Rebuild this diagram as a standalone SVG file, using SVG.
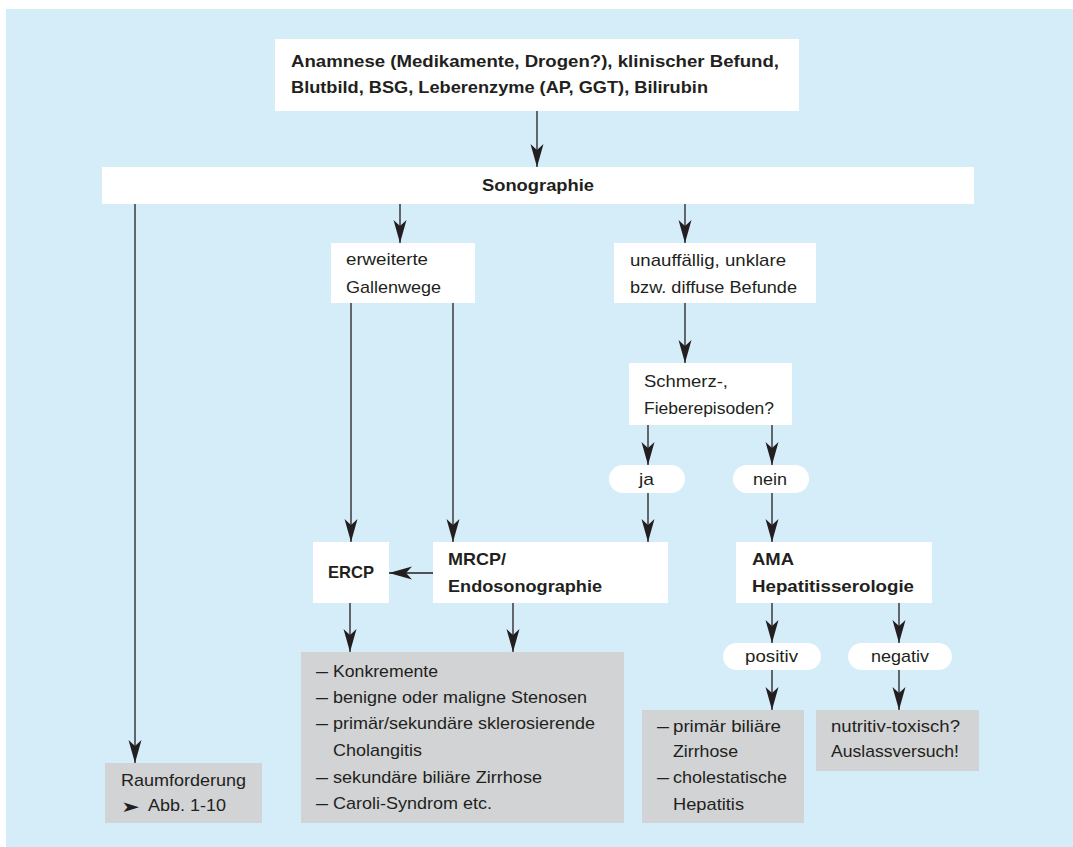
<svg xmlns="http://www.w3.org/2000/svg" width="1073" height="847" viewBox="0 0 1073 847">
  <defs>
    <marker id="arrow" markerUnits="userSpaceOnUse" markerWidth="26" markerHeight="16" viewBox="-24 -8 26 16" refX="0" refY="0" orient="auto">
      <path d="M0,0 L-23,-6.5 L-17,0 L-23,6.5 Z" fill="#231f20"/>
    </marker>
  </defs>
  <style>
    .box { fill: #ffffff; }
    .grey { fill: #d1d3d4; }
    .t { font-family: "Liberation Sans", Arial, sans-serif; font-size: 17px; fill: #231f20; }
    .b { font-weight: bold; }
    .sym { font-family: "DejaVu Sans", sans-serif; font-size: 15px; fill: #231f20; }
    #connectors line { stroke: #231f20; stroke-width: 1.3; fill: none; marker-end: url(#arrow); }
  </style>

  <!-- background panel -->
  <rect x="6" y="9" width="1067" height="838" fill="#d5ecf9"/>

  <!-- connectors -->
  <g id="connectors">
    <line x1="537" y1="111" x2="537" y2="167"/>
    <line x1="135" y1="204" x2="135" y2="763"/>
    <line x1="400" y1="204" x2="400" y2="243"/>
    <line x1="685" y1="204" x2="685" y2="243"/>
    <line x1="685" y1="303" x2="685" y2="363"/>
    <line x1="351" y1="303" x2="351" y2="542"/>
    <line x1="453" y1="303" x2="453" y2="542"/>
    <line x1="648" y1="425" x2="648" y2="465"/>
    <line x1="772" y1="425" x2="772" y2="465"/>
    <line x1="648" y1="493" x2="648" y2="542"/>
    <line x1="772" y1="493" x2="772" y2="542"/>
    <line x1="433" y1="573" x2="389" y2="573"/>
    <line x1="350" y1="603" x2="350" y2="652"/>
    <line x1="513" y1="603" x2="513" y2="652"/>
    <line x1="772" y1="603" x2="772" y2="643"/>
    <line x1="899" y1="603" x2="899" y2="643"/>
    <line x1="772" y1="670" x2="772" y2="710"/>
    <line x1="899" y1="670" x2="899" y2="710"/>
  </g>

  <g id="start">
    <rect class="box" x="275" y="39" width="524" height="72"/>
    <text class="t b" x="291" y="67" textLength="488" lengthAdjust="spacingAndGlyphs">Anamnese (Medikamente, Drogen?), klinischer Befund,</text>
    <text class="t b" x="291" y="93" textLength="417" lengthAdjust="spacingAndGlyphs">Blutbild, BSG, Leberenzyme (AP, GGT), Bilirubin</text>
  </g>

  <g id="sonographie">
    <rect class="box" x="102" y="167" width="872" height="37"/>
    <text class="t b" x="482" y="191" textLength="112" lengthAdjust="spacingAndGlyphs">Sonographie</text>
  </g>

  <g id="gallenwege">
    <rect class="box" x="331" y="243" width="144" height="60"/>
    <text class="t" x="346" y="265" textLength="82" lengthAdjust="spacingAndGlyphs">erweiterte</text>
    <text class="t" x="346" y="293" textLength="95" lengthAdjust="spacingAndGlyphs">Gallenwege</text>
  </g>

  <g id="unauffaellig">
    <rect class="box" x="614" y="243" width="202" height="60"/>
    <text class="t" x="630" y="266" textLength="156" lengthAdjust="spacingAndGlyphs">unauffällig, unklare</text>
    <text class="t" x="630" y="293" textLength="167" lengthAdjust="spacingAndGlyphs">bzw. diffuse Befunde</text>
  </g>

  <g id="schmerz">
    <rect class="box" x="629" y="363" width="163" height="62"/>
    <text class="t" x="644" y="387" textLength="84" lengthAdjust="spacingAndGlyphs">Schmerz-,</text>
    <text class="t" x="644" y="414" textLength="130" lengthAdjust="spacingAndGlyphs">Fieberepisoden?</text>
  </g>

  <g id="ja">
    <rect class="box" x="609" y="465" width="76" height="28" rx="14"/>
    <text class="t" x="639" y="485" textLength="15" lengthAdjust="spacingAndGlyphs">ja</text>
  </g>

  <g id="nein">
    <rect class="box" x="733" y="465" width="76" height="28" rx="14"/>
    <text class="t" x="753" y="485" textLength="34" lengthAdjust="spacingAndGlyphs">nein</text>
  </g>

  <g id="ercp">
    <rect class="box" x="313" y="542" width="76" height="61"/>
    <text class="t b" x="328" y="578" textLength="46" lengthAdjust="spacingAndGlyphs">ERCP</text>
  </g>

  <g id="mrcp">
    <rect class="box" x="433" y="542" width="235" height="61"/>
    <text class="t b" x="448" y="565" textLength="58" lengthAdjust="spacingAndGlyphs">MRCP/</text>
    <text class="t b" x="448" y="592" textLength="154" lengthAdjust="spacingAndGlyphs">Endosonographie</text>
  </g>

  <g id="ama">
    <rect class="box" x="736" y="542" width="196" height="61"/>
    <text class="t b" x="752" y="565" textLength="42" lengthAdjust="spacingAndGlyphs">AMA</text>
    <text class="t b" x="752" y="592" textLength="162" lengthAdjust="spacingAndGlyphs">Hepatitisserologie</text>
  </g>

  <g id="positiv">
    <rect class="box" x="723" y="643" width="98" height="27" rx="13.5"/>
    <text class="t" x="745" y="662" textLength="53" lengthAdjust="spacingAndGlyphs">positiv</text>
  </g>

  <g id="negativ">
    <rect class="box" x="848" y="643" width="104" height="27" rx="13.5"/>
    <text class="t" x="871" y="662" textLength="58" lengthAdjust="spacingAndGlyphs">negativ</text>
  </g>

  <g id="befunde-gallenwege">
    <rect class="grey" x="301" y="652" width="323" height="171"/>
    <text class="t" x="316" y="677" textLength="12" lengthAdjust="spacingAndGlyphs">–</text>
    <text class="t" x="333" y="677" textLength="105" lengthAdjust="spacingAndGlyphs">Konkremente</text>
    <text class="t" x="316" y="703" textLength="12" lengthAdjust="spacingAndGlyphs">–</text>
    <text class="t" x="333" y="703" textLength="254" lengthAdjust="spacingAndGlyphs">benigne oder maligne Stenosen</text>
    <text class="t" x="316" y="729" textLength="12" lengthAdjust="spacingAndGlyphs">–</text>
    <text class="t" x="333" y="729" textLength="262" lengthAdjust="spacingAndGlyphs">primär/sekundäre sklerosierende</text>
    <text class="t" x="333" y="756" textLength="89" lengthAdjust="spacingAndGlyphs">Cholangitis</text>
    <text class="t" x="316" y="783" textLength="12" lengthAdjust="spacingAndGlyphs">–</text>
    <text class="t" x="333" y="783" textLength="209" lengthAdjust="spacingAndGlyphs">sekundäre biliäre Zirrhose</text>
    <text class="t" x="316" y="809" textLength="12" lengthAdjust="spacingAndGlyphs">–</text>
    <text class="t" x="333" y="809" textLength="159" lengthAdjust="spacingAndGlyphs">Caroli-Syndrom etc.</text>
  </g>

  <g id="raumforderung">
    <rect class="grey" x="105" y="763" width="157" height="60"/>
    <text class="t" x="121" y="786" textLength="125" lengthAdjust="spacingAndGlyphs">Raumforderung</text>
    <text class="sym" x="121" y="812" textLength="19" lengthAdjust="spacingAndGlyphs">➤</text>
    <text class="t" x="148" y="811" textLength="78" lengthAdjust="spacingAndGlyphs">Abb. 1-10</text>
  </g>

  <g id="befunde-positiv">
    <rect class="grey" x="642" y="710" width="162" height="113"/>
    <text class="t" x="657" y="732" textLength="12" lengthAdjust="spacingAndGlyphs">–</text>
    <text class="t" x="673" y="732" textLength="108" lengthAdjust="spacingAndGlyphs">primär biliäre</text>
    <text class="t" x="673" y="757" textLength="65" lengthAdjust="spacingAndGlyphs">Zirrhose</text>
    <text class="t" x="657" y="783" textLength="12" lengthAdjust="spacingAndGlyphs">–</text>
    <text class="t" x="673" y="783" textLength="114" lengthAdjust="spacingAndGlyphs">cholestatische</text>
    <text class="t" x="673" y="810" textLength="71" lengthAdjust="spacingAndGlyphs">Hepatitis</text>
  </g>

  <g id="befunde-negativ">
    <rect class="grey" x="816" y="710" width="163" height="61"/>
    <text class="t" x="831" y="732" textLength="129" lengthAdjust="spacingAndGlyphs">nutritiv-toxisch?</text>
    <text class="t" x="831" y="757" textLength="128" lengthAdjust="spacingAndGlyphs">Auslassversuch!</text>
  </g>
</svg>
